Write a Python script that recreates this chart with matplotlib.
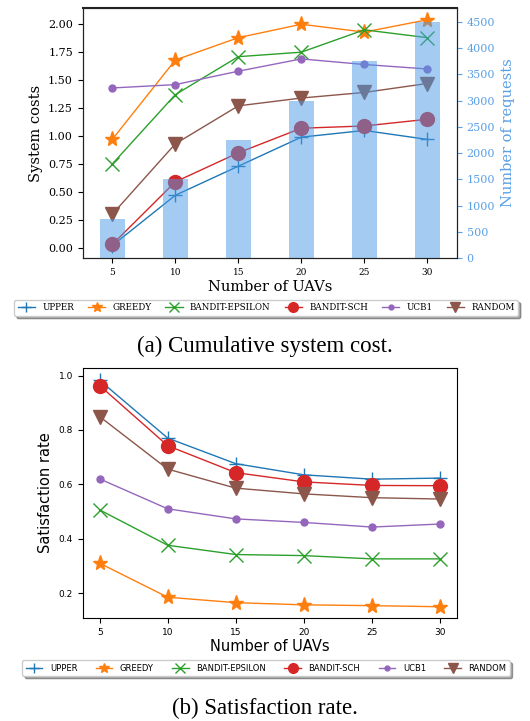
import numpy as np
import matplotlib.pyplot as plt

uavs = [5, 10, 15, 20, 25, 30]
requests = [750, 1500, 2250, 3000, 3750, 4500]

names = ['UPPER', 'GREEDY', 'BANDIT-EPSILON', 'BANDIT-SCH', 'UCB1', 'RANDOM']

# (a) cumulative system cost
cost_upper = [0.02, 0.47, 0.73, 0.99, 1.05, 0.97]
cost_greedy = [0.97, 1.68, 1.88, 2.00, 1.93, 2.04]
cost_epsilon = [0.75, 1.37, 1.71, 1.75, 1.95, 1.88]
cost_sch = [0.03, 0.59, 0.85, 1.07, 1.09, 1.15]
cost_ucb1 = [1.43, 1.46, 1.58, 1.69, 1.64, 1.60]
cost_random = [0.30, 0.93, 1.27, 1.34, 1.39, 1.47]

# (b) satisfaction rate
sat_upper = [0.982, 0.770, 0.676, 0.635, 0.619, 0.623]
sat_greedy = [0.310, 0.185, 0.165, 0.157, 0.154, 0.150]
sat_epsilon = [0.506, 0.376, 0.342, 0.338, 0.326, 0.326]
sat_sch = [0.963, 0.742, 0.643, 0.609, 0.596, 0.595]
sat_ucb1 = [0.620, 0.510, 0.473, 0.460, 0.443, 0.454]
sat_random = [0.849, 0.656, 0.586, 0.565, 0.551, 0.546]

colors = ['#1f77b4', '#ff7f0e', '#2ca02c', '#d62728', '#9467bd', '#8c564b']
markers = ['+', '*', 'x', 'o', 'o', 'v']
msizes = [10, 11, 10, 10, 5, 10]

fig = plt.figure(figsize=(5.3, 7.21), dpi=100)

# ---- top panel ----
ax1 = fig.add_axes([0.156, 0.642, 0.706, 0.347])
cost = [cost_upper, cost_greedy, cost_epsilon, cost_sch, cost_ucb1, cost_random]
for i in range(6):
    ax1.plot(uavs, cost[i], color=colors[i], marker=markers[i], markersize=msizes[i],
             lw=1, label=names[i])
ax1.set_ylim(-0.092, 2.146)
ax1.set_yticks(np.arange(0, 2.01, 0.25))
ax1.set_ylabel('System costs', family='DejaVu Serif', fontsize=10.5)
ax1.set_xlabel('Number of UAVs', family='DejaVu Serif', fontsize=10.5, labelpad=2)
for lb in ax1.get_yticklabels():
    lb.set_family('DejaVu Serif')
    lb.set_fontsize(8)
ax1.tick_params(axis='x', labelsize=6.5)
for lb in ax1.get_xticklabels():
    lb.set_family('DejaVu Serif')
ax1.set_xticks(uavs)

ax2 = ax1.twinx()
ax2.bar(uavs, requests, width=2, color='#4a9be8', alpha=0.5)
ax2.set_ylim(0, 4767)
ax2.set_yticks(np.arange(0, 4501, 500))
ax2.tick_params(axis='y', colors='#5aa0e6', labelsize=8)
for lb in ax2.get_yticklabels():
    lb.set_family('DejaVu Serif')
ax2.set_ylabel('Number of requests', color='#5aa0e6', family='DejaVu Serif', fontsize=10.5)
ax2.set_xlim(2.65, 32.35)
for sp in ax2.spines.values():
    sp.set_color('#222222')
ax2.spines['top'].set_linewidth(1.5)

h, l = ax1.get_legend_handles_labels()
fig.legend(h, l, loc='center', bbox_to_anchor=(0.502, 0.573), ncol=6,
           prop={'family': 'DejaVu Serif', 'size': 6.3}, shadow=True, markerscale=0.7,
           columnspacing=1.6, handlelength=2.0, handletextpad=0.8, borderpad=0.4)

fig.text(0.5, 0.519, '(a) Cumulative system cost.', ha='center', va='center',
         family='Liberation Serif', fontsize=16.5)

# ---- bottom panel ----
ax3 = fig.add_axes([0.156, 0.143, 0.706, 0.3467])
sat = [sat_upper, sat_greedy, sat_epsilon, sat_sch, sat_ucb1, sat_random]
for i in range(6):
    ax3.plot(uavs, sat[i], color=colors[i], marker=markers[i], markersize=msizes[i],
             lw=1, label=names[i])
ax3.set_ylim(0.109, 1.028)
ax3.set_yticks([0.2, 0.4, 0.6, 0.8, 1.0])
ax3.set_xticks(uavs)
ax3.tick_params(labelsize=6.5)
ax3.set_ylabel('Satisfaction rate', fontsize=10.5)
ax3.set_xlabel('Number of UAVs', fontsize=10.5, labelpad=2)

h, l = ax3.get_legend_handles_labels()
fig.legend(h, l, loc='center', bbox_to_anchor=(0.502, 0.0735), ncol=6,
           prop={'size': 6}, shadow=True, markerscale=0.7,
           columnspacing=2.2, handlelength=2.0, handletextpad=0.9, borderpad=0.4)

fig.text(0.5, 0.018, '(b) Satisfaction rate.', ha='center', va='center',
         family='Liberation Serif', fontsize=16.5)

fig.savefig('out.png', dpi=100, facecolor='w')
